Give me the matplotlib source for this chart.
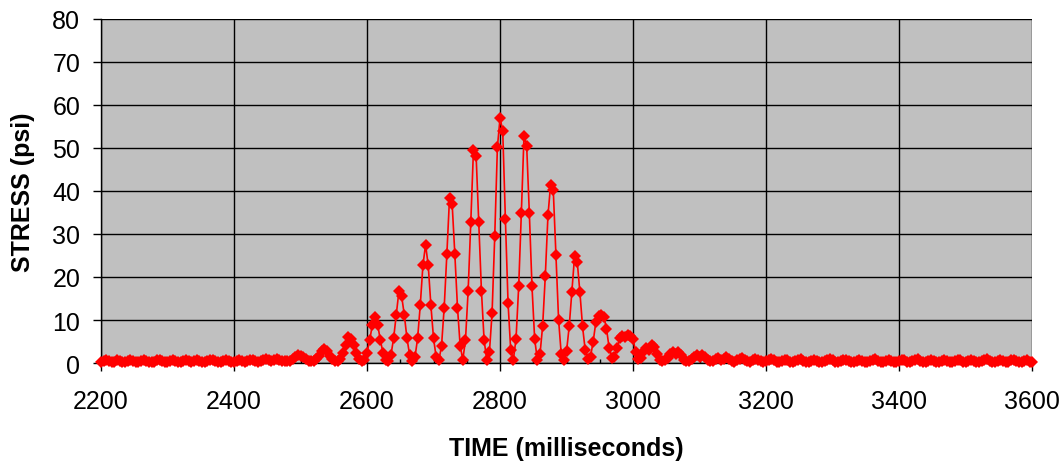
import numpy as np
import matplotlib
matplotlib.use("Agg")
import matplotlib.pyplot as plt
from matplotlib.ticker import MultipleLocator

# stress samples every 4 ms, starting at 2200 ms
t_start = 2200
t_step = 4

# quiet lead-in, 2200-2476 ms
stress_pre = [
    0.3, 0.5, 0.7, 0.4, 0.2, 0.3, 0.6, 0.5, 0.3, 0.2,
    0.4, 0.6, 0.5, 0.3, 0.2, 0.4, 0.7, 0.5, 0.3, 0.2,
    0.3, 0.6, 0.8, 0.5, 0.3, 0.2, 0.4, 0.6, 0.4, 0.2,
    0.3, 0.5, 0.7, 0.5, 0.3, 0.4, 0.6, 0.5, 0.3, 0.2,
    0.4, 0.6, 0.8, 0.5, 0.3, 0.2, 0.5, 0.7, 0.4, 0.2,
    0.3, 0.5, 0.6, 0.4, 0.3, 0.5, 0.8, 0.6, 0.4, 0.3,
    0.5, 0.7, 0.9, 0.6, 0.4, 0.6, 1.0, 0.8, 0.5, 0.4,
]

# the burst, 2480-3156 ms
stress_burst = [
    0.4, 0.55, 0.9, 1.4, 1.8, 1.7, 1.3, 0.9, 0.5, 0.4,
    0.5, 0.9, 1.7, 2.7, 3.2, 2.7, 1.6, 0.9, 0.4, 0.4,
    0.9, 2.3, 4.2, 6.0, 5.6, 4.2, 2.3, 0.9, 0.4, 0.7,
    2.4, 5.3, 8.9, 10.6, 8.9, 5.3, 2.4, 0.7, 0.4, 1.9,
    5.8, 11.2, 16.8, 15.6, 11.2, 5.8, 1.9, 0.4, 1.3, 5.7,
    13.4, 22.7, 27.5, 22.7, 13.4, 5.7, 1.3, 0.6, 4.0, 12.9,
    25.3, 38.4, 36.9, 25.3, 12.9, 4.0, 0.8, 5.3, 16.8, 32.8,
    49.6, 48.2, 32.8, 16.8, 5.3, 0.8, 2.5, 11.7, 29.5, 50.2,
    57.0, 54.0, 33.5, 14.0, 3.0, 0.8, 5.6, 17.8, 34.9, 52.8,
    50.5, 34.9, 17.8, 5.6, 0.8, 2.0, 8.6, 20.2, 34.3, 41.5,
    40.2, 25.0, 10.0, 2.0, 0.6, 2.8, 8.6, 16.6, 24.8, 23.6,
    16.5, 8.5, 3.0, 1.0, 1.5, 5.0, 9.5, 11.0, 11.2, 10.8,
    8.0, 3.5, 1.2, 1.5, 3.5, 5.8, 6.2, 6.0, 6.5, 6.3,
    5.5, 2.5, 1.0, 1.2, 2.8, 3.5, 3.0, 4.2, 3.8, 2.0,
    0.8, 0.5, 0.6, 1.2, 2.2, 2.6, 2.2, 2.6, 1.8, 0.8,
    0.4, 0.5, 0.9, 1.4, 1.8, 1.5, 1.9, 1.3, 0.7, 0.4,
    0.5, 0.9, 1.2, 0.8, 1.0, 1.3, 0.9, 0.5, 0.3, 0.6,
]

# tail, 3160-3600 ms
stress_post = [
    0.9, 1.1, 0.7, 0.4, 0.3, 0.6, 0.9, 0.7, 0.4, 0.3,
    0.5, 0.8, 1.0, 0.6, 0.3, 0.2, 0.5, 0.8, 0.6, 0.3,
    0.2, 0.4, 0.7, 0.9, 0.5, 0.3, 0.2, 0.5, 0.8, 0.5,
    0.3, 0.2, 0.4, 0.7, 0.9, 0.6, 0.3, 0.2, 0.4, 0.6,
    0.8, 0.5, 0.3, 0.2, 0.5, 0.8, 0.5, 0.3, 0.2, 0.4,
    0.7, 0.9, 0.5, 0.3, 0.2, 0.4, 0.7, 0.5, 0.3, 0.2,
    0.5, 0.8, 0.6, 0.3, 0.2, 0.4, 0.7, 0.9, 0.5, 0.3,
    0.2, 0.5, 0.8, 0.5, 0.3, 0.2, 0.4, 0.7, 0.5, 0.3,
    0.2, 0.5, 0.8, 0.6, 0.3, 0.2, 0.4, 0.7, 0.5, 0.3,
    0.2, 0.4, 0.7, 0.9, 0.5, 0.3, 0.2, 0.5, 0.7, 0.4,
    0.2, 0.3, 0.6, 0.8, 0.5, 0.3, 0.2, 0.4, 0.6, 0.3,
    0.2,
]

stress = np.array(stress_pre + stress_burst + stress_post)
time_ms = t_start + t_step * np.arange(len(stress))

plt.rcParams['font.family'] = ['Liberation Sans', 'DejaVu Sans']

fig = plt.figure(figsize=(10.63, 4.64), dpi=100)
ax = fig.add_axes([0.095, 0.2155, 0.876, 0.7415])
ax.set_facecolor('#C0C0C0')

ax.plot(time_ms, stress, color='#FF0000', linewidth=1.2,
        marker='D', markersize=6.5, markeredgewidth=0, zorder=3, clip_on=False)

ax.set_xlim(2200, 3600)
ax.set_ylim(0, 80)
ax.xaxis.set_major_locator(MultipleLocator(200))
ax.xaxis.set_minor_locator(MultipleLocator(50))
ax.yaxis.set_major_locator(MultipleLocator(10))
ax.grid(True, which='major', color='black', linewidth=1.0)
ax.set_axisbelow(True)

for side in ['top', 'right']:
    ax.spines[side].set_visible(False)
for side in ['left', 'bottom']:
    ax.spines[side].set_color('black')
    ax.spines[side].set_linewidth(1.0)

ax.tick_params(axis='both', which='major', direction='out', length=6,
               width=1, labelsize=18, colors='black')
ax.tick_params(axis='x', which='minor', direction='in', length=3, width=1)
ax.tick_params(axis='x', which='major', pad=13)
ax.tick_params(axis='y', which='major', pad=9)

ax.set_xlabel('TIME (milliseconds)', fontsize=18, fontweight='bold', labelpad=16)
ax.set_ylabel('STRESS (psi)', fontsize=18, fontweight='bold', labelpad=12)

fig.savefig('out.png', dpi=100, facecolor='white')
